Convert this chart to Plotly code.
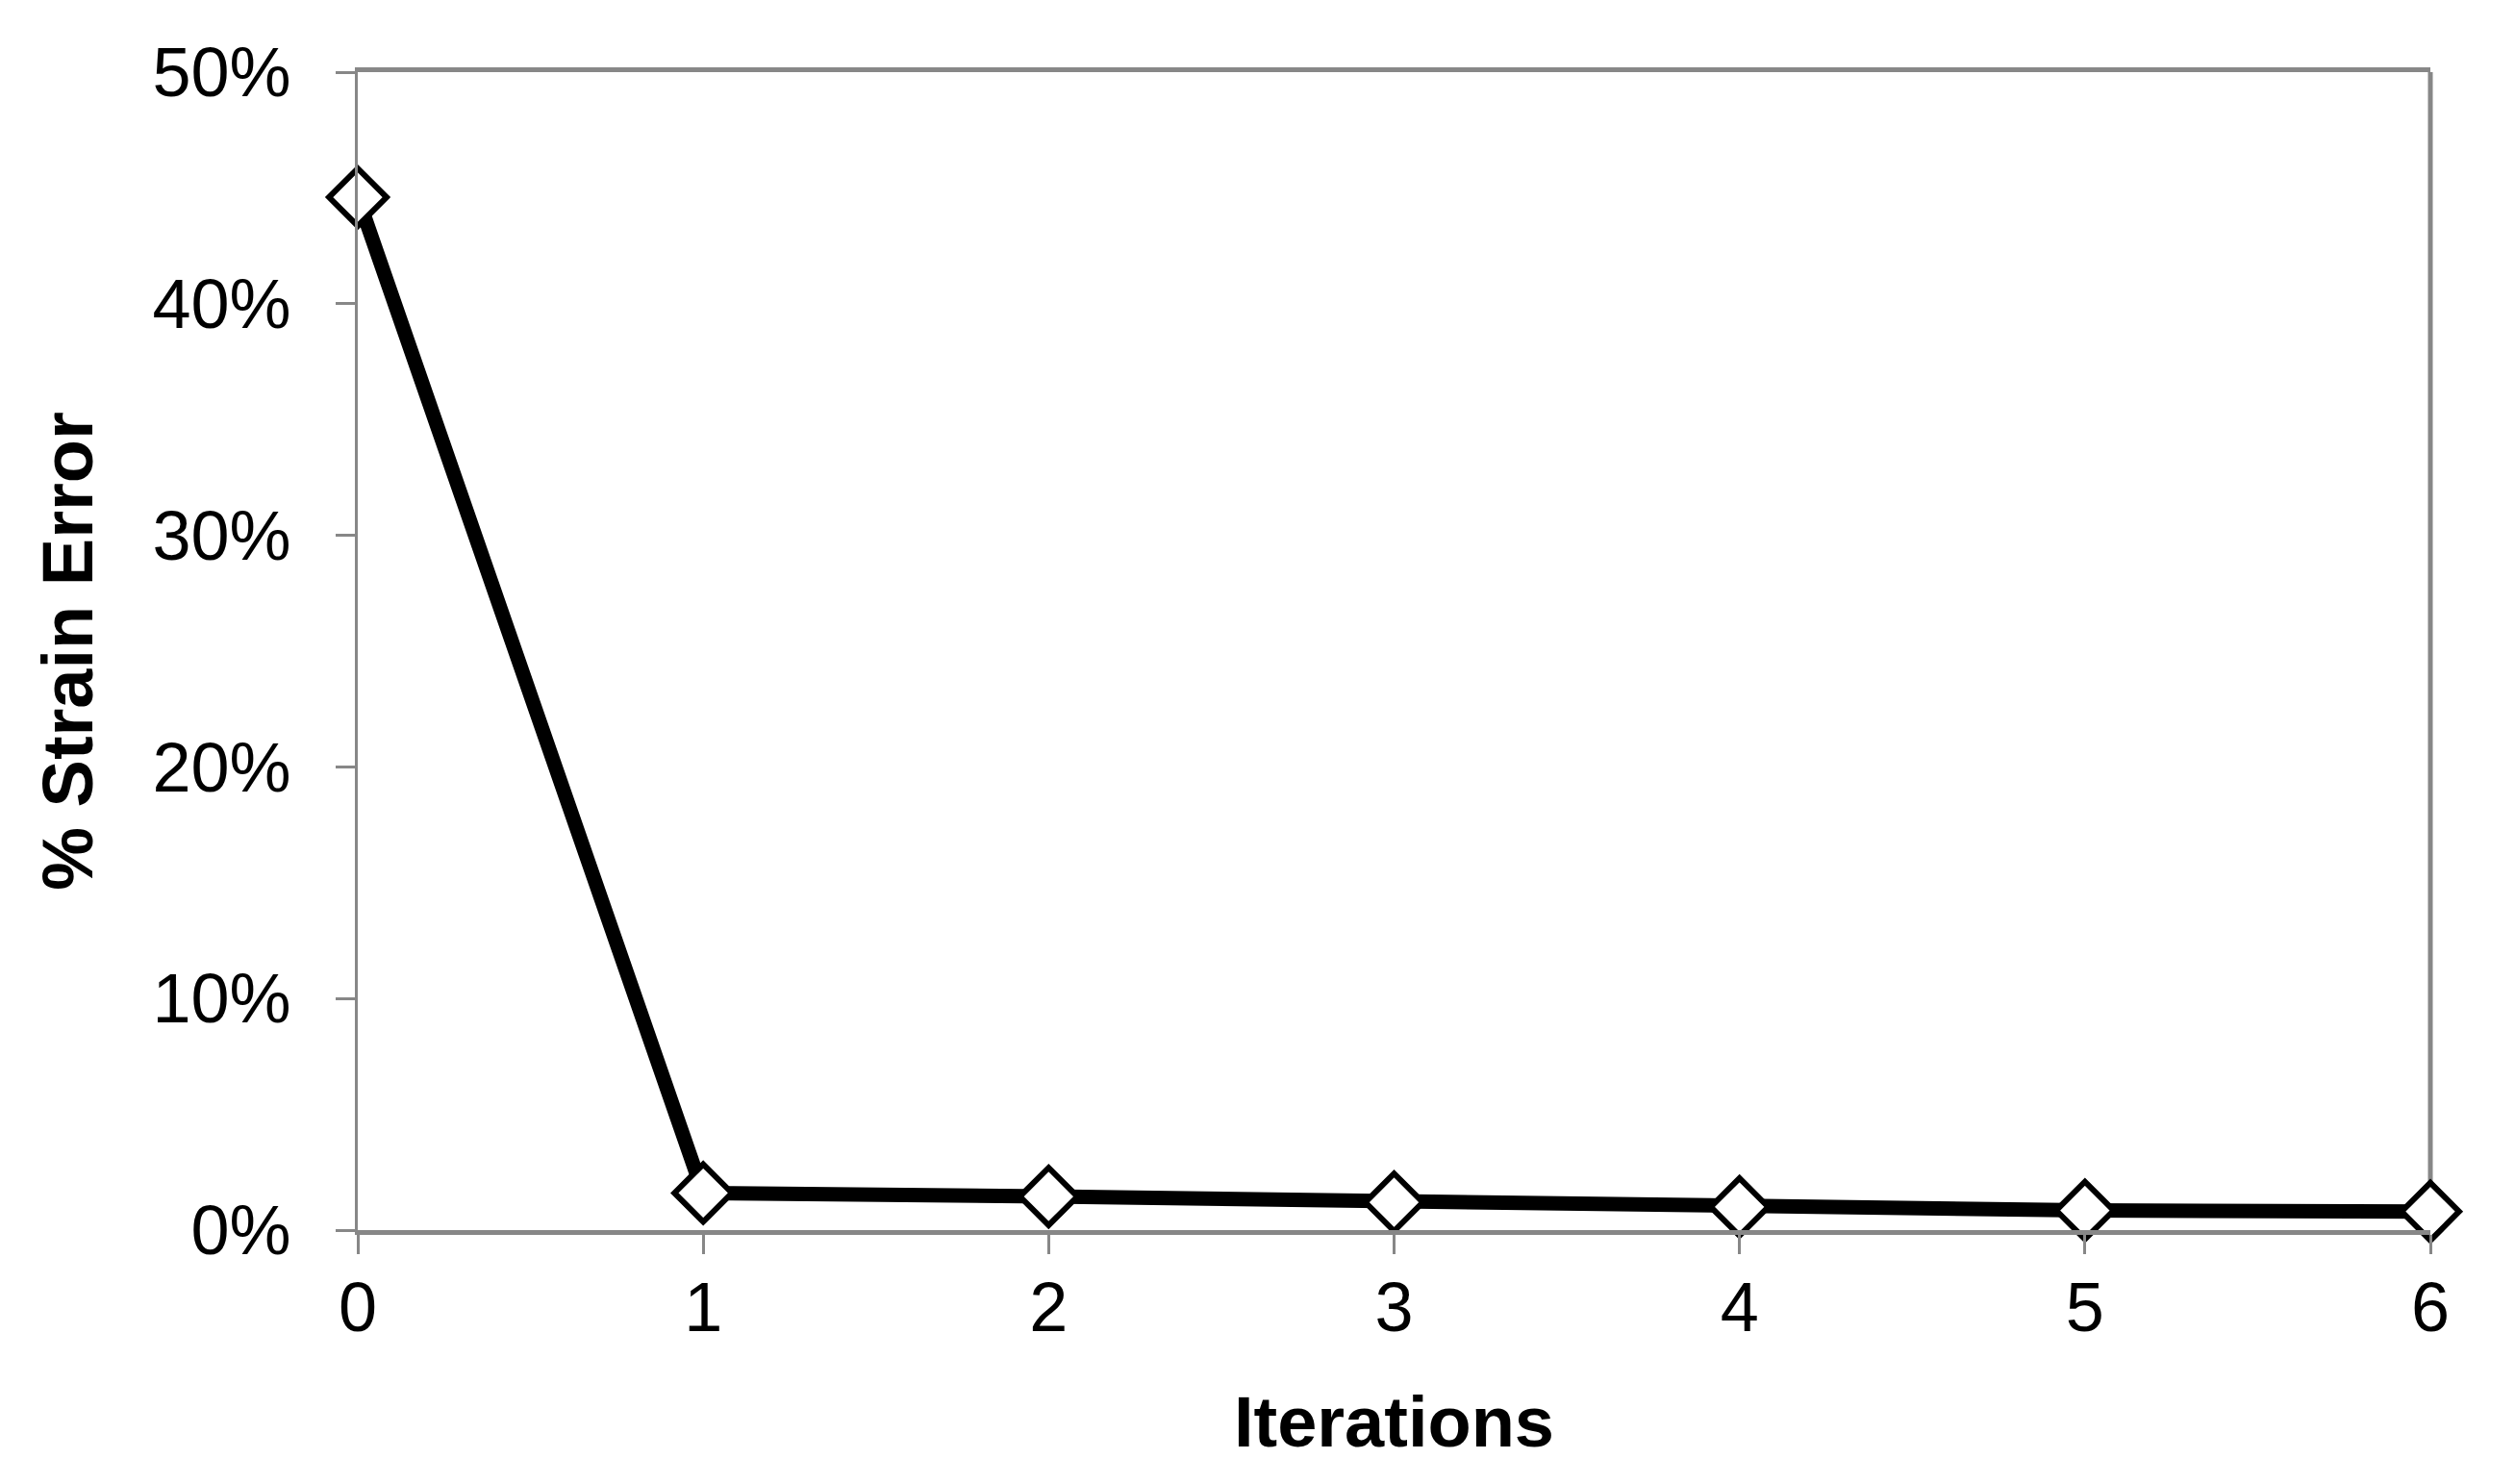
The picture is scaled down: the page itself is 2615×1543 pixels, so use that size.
import plotly.graph_objects as go

# iteration number vs. strain error (fraction)
iterations = [0, 1, 2, 3, 4, 5, 6]
strain_error = [0.446, 0.016, 0.0145, 0.012, 0.010, 0.0085, 0.008]
y_ticks = [0, 0.1, 0.2, 0.3, 0.4, 0.5]
y_tick_labels = ["0%", "10%", "20%", "30%", "40%", "50%"]

AXIS_GRAY = "#878787"
FONT = "Liberation Sans, Arial, sans-serif"

fig = go.Figure()

fig.add_trace(go.Scatter(
    x=iterations, y=strain_error, mode="lines+markers",
    line=dict(color="black", width=15),
    marker=dict(symbol="diamond", size=46, color="white",
                line=dict(color="black", width=6)),
    cliponaxis=False, showlegend=False,
))

# right border of the plot area
fig.add_shape(type="line", xref="x domain", yref="y domain",
              x0=1, x1=1, y0=0, y1=1,
              line=dict(color=AXIS_GRAY, width=5), layer="below")

fig.update_layout(
    width=2615, height=1543,
    margin=dict(l=364, r=96, t=67, b=272),
    plot_bgcolor="white", paper_bgcolor="white",
    font=dict(family=FONT, color="black", size=72),
)

fig.update_xaxes(
    range=[0, 6], tickvals=iterations, ticks="outside", ticklen=20,
    tickwidth=3, tickcolor=AXIS_GRAY, showgrid=False, zeroline=False,
    showline=True, linecolor=AXIS_GRAY, linewidth=5, mirror=True,
    tickfont=dict(size=72), ticklabelstandoff=-6,
    title=dict(text="<b>Iterations</b>", font=dict(size=74), standoff=55),
)
fig.update_yaxes(
    range=[0, 0.5], tickvals=y_ticks, ticktext=y_tick_labels,
    ticks="outside", ticklen=20, tickwidth=3, tickcolor=AXIS_GRAY,
    showgrid=False, zeroline=False,
    showline=True, linecolor=AXIS_GRAY, linewidth=3,
    tickfont=dict(size=72), ticklabelstandoff=32,
    title=dict(text="<b>% Strain Error</b>", font=dict(size=74), standoff=38),
)

fig.write_html("out.html")
